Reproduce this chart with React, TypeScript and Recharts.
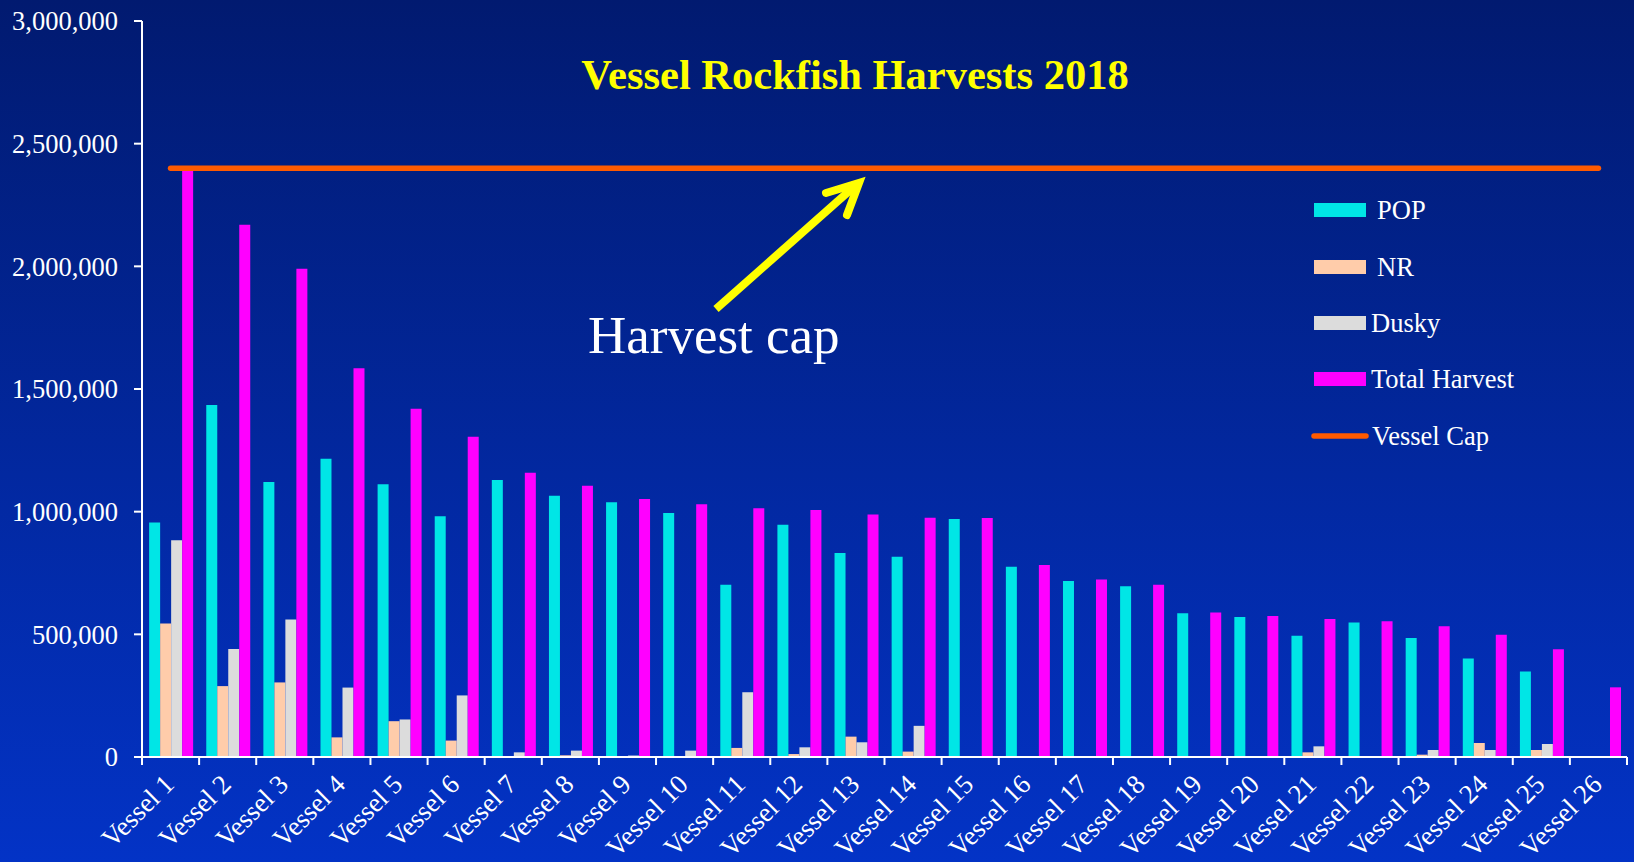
import React from "react";
import { ComposedChart, Bar, Line, XAxis, YAxis, Legend } from "recharts";

const categories = [
  "Vessel 1", "Vessel 2", "Vessel 3", "Vessel 4", "Vessel 5", "Vessel 6", "Vessel 7",
  "Vessel 8", "Vessel 9", "Vessel 10", "Vessel 11", "Vessel 12", "Vessel 13", "Vessel 14",
  "Vessel 15", "Vessel 16", "Vessel 17", "Vessel 18", "Vessel 19", "Vessel 20", "Vessel 21",
  "Vessel 22", "Vessel 23", "Vessel 24", "Vessel 25", "Vessel 26",
];
const popValues = [
  956000, 1435000, 1121000, 1216000, 1112000, 981000, 1129000, 1065000, 1038000, 995000,
  702000, 947000, 832000, 816000, 970000, 775000, 717000, 696000, 586000, 571000,
  494000, 548000, 485000, 402000, 349000, 0,
];
const nrValues = [
  544000, 289000, 304000, 80000, 146000, 67000, 0, 7000, 0, 0,
  37000, 12000, 83000, 22000, 0, 0, 0, 0, 0, 0,
  19000, 0, 9500, 57000, 28500, 0,
];
const duskyValues = [
  884000, 440000, 560000, 283000, 153000, 251000, 19000, 26000, 6000, 26000,
  264000, 39500, 60000, 127000, 0, 2000, 0, 0, 0, 0,
  43500, 0, 28500, 28500, 53000, 0,
];
const totalValues = [
  2390000, 2170000, 1990000, 1585000, 1420000, 1305000, 1159000, 1106000, 1052000, 1030000,
  1014000, 1007000, 988000, 975000, 974000, 783000, 723000, 702000, 589000, 575000,
  563000, 553000, 533000, 498000, 439000, 284000,
];
const vesselCap = 2400000;
const yTicks = [0, 500000, 1000000, 1500000, 2000000, 2500000, 3000000];
const legendOrder = ["POP", "NR", "Dusky", "Total Harvest", "Vessel Cap"];

const data = categories.map((name, i) => ({
  name,
  pop: popValues[i],
  nr: nrValues[i],
  dusky: duskyValues[i],
  total: totalValues[i],
  cap: vesselCap,
}));

const W = 1634;
const H = 862;
const PLOT_LEFT = 142;
const PLOT_RIGHT = 1627;
const PLOT_TOP = 21;
const PLOT_BOTTOM = 757;
const FONT = "'Liberation Serif', 'Times New Roman', serif";
const BAND = (PLOT_RIGHT - PLOT_LEFT) / categories.length;

const fmt = (v: number) => v.toLocaleString("en-US");

const XTick = (props: any) => {
  const { x, payload, index } = props;
  const left = x - BAND / 2;
  const right = x + BAND / 2;
  const tx = x + 5;
  const ty = PLOT_BOTTOM + 29;
  return (
    <g>
      <line x1={left} y1={PLOT_BOTTOM} x2={left} y2={PLOT_BOTTOM + 8} stroke="#ffffff" strokeWidth={2} />
      {index === categories.length - 1 && (
        <line x1={right} y1={PLOT_BOTTOM} x2={right} y2={PLOT_BOTTOM + 8} stroke="#ffffff" strokeWidth={2} />
      )}
      <text
        x={tx}
        y={ty}
        textAnchor="end"
        transform={`rotate(-45, ${tx}, ${ty})`}
        fill="#ffffff"
        fontSize={27}
        fontFamily={FONT}
      >
        {payload.value}
      </text>
    </g>
  );
};

const legendRows = [30, 87, 143, 199, 256];
const legendTextX = [77, 77, 71, 71, 72];

const renderLegend = (props: any) => {
  const payload: any[] = props.payload || [];
  const ordered = legendOrder
    .map((n) => payload.find((p) => p.value === n))
    .filter(Boolean);
  return (
    <svg width={330} height={290} style={{ display: "block", overflow: "visible" }}>
      {ordered.map((entry: any, i: number) => {
        const cy = legendRows[i];
        const isLine = entry.value === "Vessel Cap";
        return (
          <g key={i}>
            {isLine ? (
              <line x1={14} y1={cy} x2={66} y2={cy} stroke={entry.color} strokeWidth={5.5} strokeLinecap="round" />
            ) : (
              <rect x={14} y={cy - 7} width={52} height={14} fill={entry.color} />
            )}
            <text x={legendTextX[i]} y={cy + 9} fill="#ffffff" fontSize={26.5} fontFamily={FONT}>
              {entry.value}
            </text>
          </g>
        );
      })}
    </svg>
  );
};

export default function App() {
  return (
    <div
      style={{
        position: "absolute",
        left: 0,
        top: 0,
        width: W,
        height: H,
        background: "linear-gradient(to bottom, #011a70 0%, #0228a0 55%, #0333c6 100%)",
        overflow: "hidden",
      }}
    >
      <ComposedChart
        width={W}
        height={H}
        data={data}
        margin={{ top: PLOT_TOP, right: W - PLOT_RIGHT, bottom: H - PLOT_BOTTOM - 100, left: 0 }}
        barCategoryGap="12.5%"
        barGap={0}
      >
        <XAxis
          dataKey="name"
          interval={0}
          height={100}
          tickLine={false}
          axisLine={{ stroke: "#ffffff", strokeWidth: 2 }}
          tick={<XTick />}
        />
        <YAxis
          width={PLOT_LEFT}
          domain={[0, 3000000]}
          ticks={yTicks}
          tickFormatter={fmt}
          tickSize={8}
          tickMargin={16}
          axisLine={{ stroke: "#ffffff", strokeWidth: 2 }}
          tickLine={{ stroke: "#ffffff", strokeWidth: 2 }}
          tick={{ fill: "#ffffff", fontSize: 26.5, fontFamily: FONT }}
          allowDataOverflow
        />
        <Legend
          layout="vertical"
          align="center"
          verticalAlign="middle"
          itemSorter={null as any}
          content={renderLegend}
          wrapperStyle={{ position: "absolute", left: 1300, top: 180, width: 330, height: 290 }}
        />
        <Bar dataKey="pop" name="POP" fill="#00E6E6" isAnimationActive={false} />
        <Bar dataKey="nr" name="NR" fill="#FFCCAA" isAnimationActive={false} />
        <Bar dataKey="dusky" name="Dusky" fill="#DCDCDC" isAnimationActive={false} />
        <Bar dataKey="total" name="Total Harvest" fill="#FF00FF" isAnimationActive={false} />
        <Line
          dataKey="cap"
          name="Vessel Cap"
          type="linear"
          stroke="#FF5A00"
          strokeWidth={5.5}
          strokeLinecap="round"
          dot={false}
          activeDot={false}
          legendType="line"
          isAnimationActive={false}
        />
      </ComposedChart>
      <svg
        width={W}
        height={H}
        style={{ position: "absolute", left: 0, top: 0, pointerEvents: "none" }}
      >
        <text
          x={855}
          y={89}
          textAnchor="middle"
          fill="#FFFF00"
          fontSize={42.5}
          fontWeight="bold"
          fontFamily={FONT}
        >
          Vessel Rockfish Harvests 2018
        </text>
        <path d="M716 309 L856 185" stroke="#FFFF00" strokeWidth={8} fill="none" />
        <path
          d="M826 193 L859 183 L847 215"
          stroke="#FFFF00"
          strokeWidth={8}
          fill="none"
          strokeLinecap="round"
          strokeLinejoin="miter"
        />
        <text x={588} y={353} fill="#ffffff" fontSize={53} fontFamily={FONT}>
          Harvest cap
        </text>
      </svg>
    </div>
  );
}
